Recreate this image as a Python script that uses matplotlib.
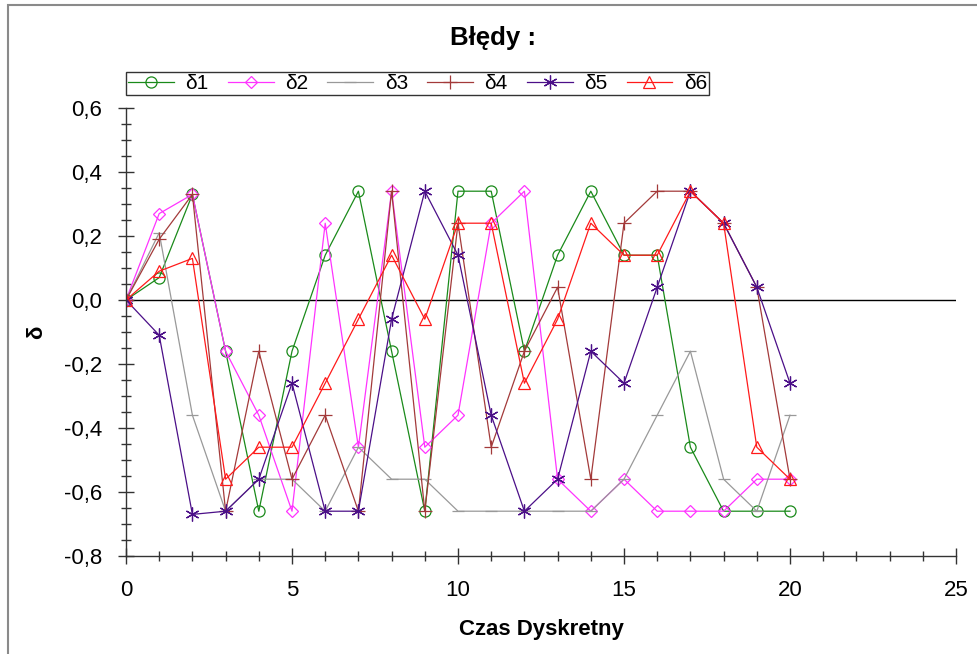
import matplotlib.pyplot as plt
from matplotlib.patches import Rectangle

plt.rcParams['font.family'] = ['Liberation Sans', 'DejaVu Sans']

# dane
t = list(range(21))
d1 = [0, 0.07, 0.33, -0.16, -0.66, -0.16, 0.14, 0.34, -0.16, -0.66, 0.34,
      0.34, -0.16, 0.14, 0.34, 0.14, 0.14, -0.46, -0.66, -0.66, -0.66]
d2 = [0, 0.27, 0.33, -0.16, -0.36, -0.66, 0.24, -0.46, 0.34, -0.46, -0.36,
      0.24, 0.34, -0.56, -0.66, -0.56, -0.66, -0.66, -0.66, -0.56, -0.56]
d3 = [0, 0.21, -0.36, -0.66, -0.56, -0.56, -0.66, -0.46, -0.56, -0.56, -0.66,
      -0.66, -0.66, -0.66, -0.66, -0.56, -0.36, -0.16, -0.56, -0.66, -0.36]
d4 = [0, 0.19, 0.33, -0.66, -0.16, -0.56, -0.36, -0.66, 0.34, -0.66, 0.24,
      -0.46, -0.16, 0.04, -0.56, 0.24, 0.34, 0.34, 0.24, 0.04, -0.56]
d5 = [0, -0.11, -0.67, -0.66, -0.56, -0.26, -0.66, -0.66, -0.06, 0.34, 0.14,
      -0.36, -0.66, -0.56, -0.16, -0.26, 0.04, 0.34, 0.24, 0.04, -0.26]
d6 = [0, 0.09, 0.13, -0.56, -0.46, -0.46, -0.26, -0.06, 0.14, -0.06, 0.24,
      0.24, -0.26, -0.06, 0.24, 0.14, 0.14, 0.34, 0.24, -0.46, -0.56]

labels = ['δ1', 'δ2', 'δ3', 'δ4', 'δ5', 'δ6']
xticks = [0, 5, 10, 15, 20, 25]
yticks = [-0.8, -0.6, -0.4, -0.2, 0.0, 0.2, 0.4, 0.6]

W, H = 978, 654
fig = plt.figure(figsize=(W / 100, H / 100), dpi=100)
ax = fig.add_axes([126 / W, 98 / H, 830 / W, 448 / H])

# szara ramka okna
fig.patches.append(Rectangle((8 / W, -0.1), 1.2, 1.1 - 5 / H, transform=fig.transFigure,
                             fill=False, edgecolor='#8a8a8a', lw=1.5))

style = [
    ('#1a8a1a', 'o', 8),
    ('#ff33ff', 'D', 6.5),
    ('#999999', '_', 8),
    ('#a33a3a', '+', 10),
    ('#4b0f88', (6, 2, 0), 10),
    ('#ff1a1a', '^', 9),
]
series = [d1, d2, d3, d4, d5, d6]
for y, lab, (c, m, ms) in zip(series, labels, style):
    ax.plot(t, y, color=c, lw=0.9, marker=m, ms=ms, mfc='none', mec=c,
            mew=0.9, label=lab)

ax.axhline(0, color='black', lw=1, zorder=1)

ax.set_xlim(0, 25)
ax.set_ylim(-0.8, 0.6)
ax.set_xticks(xticks)
ax.set_yticks(yticks)
ax.set_yticklabels([f'{v:.1f}'.replace('.', ',') for v in yticks])
ax.set_xticks(range(26), minor=True)
ax.set_yticks([v / 100 for v in range(-80, 61, 5)], minor=True)

for s in ['top', 'right']:
    ax.spines[s].set_visible(False)
for s in ['left', 'bottom']:
    ax.spines[s].set_color('#333333')
    ax.spines[s].set_linewidth(1)
ax.tick_params(which='major', direction='inout', length=12, width=1,
               color='#333333', labelsize=16, pad=11)
ax.tick_params(which='minor', direction='inout', length=6.5, width=1,
               color='#333333')

ax.set_xlabel('Czas Dyskretny', fontsize=16, fontweight='bold')
ax.xaxis.set_label_coords(0.5, -0.14)
ax.xaxis.label.set_va('top')
ax.set_ylabel('δ', fontsize=16, fontweight='bold')
ax.yaxis.set_label_coords(-0.095, 0.5)

fig.text(493 / W, 1 - 38 / H, 'Błędy :', fontsize=18.5, fontweight='bold',
         ha='center', va='center')

leg = ax.legend(loc='upper left', bbox_to_anchor=(126 / W, 1 - 72 / H),
                bbox_transform=fig.transFigure, ncol=6, fontsize=15,
                frameon=True, fancybox=False, borderpad=0.1,
                borderaxespad=0, handlelength=2.2, handletextpad=0.55,
                columnspacing=0.92)
leg.get_frame().set_edgecolor('black')
leg.get_frame().set_linewidth(1)

fig.savefig('out.png', dpi=100)
